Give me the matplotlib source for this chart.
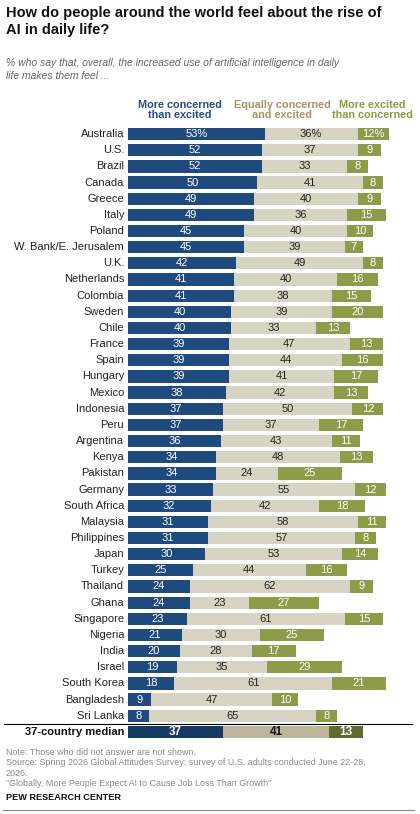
import numpy as np
import matplotlib.pyplot as plt

countries = ['Australia', 'U.S.', 'Brazil', 'Canada', 'Greece', 'Italy', 'Poland',
             'W. Bank/E. Jerusalem', 'U.K.', 'Netherlands', 'Colombia', 'Sweden', 'Chile',
             'France', 'Spain', 'Hungary', 'Mexico', 'Indonesia', 'Peru', 'Argentina',
             'Kenya', 'Pakistan', 'Germany', 'South Africa', 'Malaysia', 'Philippines',
             'Japan', 'Turkey', 'Thailand', 'Ghana', 'Singapore', 'Nigeria', 'India',
             'Israel', 'South Korea', 'Bangladesh', 'Sri Lanka']
concerned = [53, 52, 52, 50, 49, 49, 45, 45, 42, 41, 41, 40, 40, 39, 39, 39, 38, 37, 37,
             36, 34, 34, 33, 32, 31, 31, 30, 25, 24, 24, 23, 21, 20, 19, 18, 9, 8]
equal = [36, 37, 33, 41, 40, 36, 40, 39, 49, 40, 38, 39, 33, 47, 44, 41, 42, 50, 37,
         43, 48, 24, 55, 42, 58, 57, 53, 44, 62, 23, 61, 30, 28, 35, 61, 47, 65]
excited = [12, 9, 8, 8, 9, 15, 10, 7, 8, 16, 15, 20, 13, 13, 16, 17, 13, 12, 17,
           11, 13, 25, 12, 18, 11, 8, 14, 16, 9, 27, 15, 25, 17, 29, 21, 10, 8]
median_label = '37-country median'
median = [37, 41, 13]

W, H = 420, 814
fig = plt.figure(figsize=(W / 100, H / 100), dpi=100)
plt.rcParams['font.family'] = ['Liberation Sans', 'DejaVu Sans']

c_blue, c_beige, c_green = '#1f4a7e', '#d8d4c4', '#8d9c48'
m_blue, m_beige, m_green = '#173a63', '#bdb59c', '#5f6b2e'

# axes: x 0..110 units maps to px 128..128+2.58*110; rows -0.5..37.5 maps to px 126..740
ppu = 2.58
left, right = 128, 128 + ppu * 110
top, bot = 126, 740
ax = fig.add_axes([left / W, 1 - bot / H, (right - left) / W, (bot - top) / H])
ax.set_xlim(0, 110)
ax.set_ylim(37.5, -0.5)
ax.axis('off')

y = np.arange(len(countries))
h = 0.76
c = np.array(concerned)
e = np.array(equal)
x = np.array(excited)
ax.barh(y, c, height=h, color=c_blue)
ax.barh(y, e, left=c, height=h, color=c_beige)
ax.barh(y, x, left=c + e, height=h, color=c_green)
for i in range(len(countries)):
    suf = '%' if i == 0 else ''
    ax.text(c[i] / 2, i, f'{c[i]}{suf}', ha='center', va='center', color='white', fontsize=8)
    ax.text(c[i] + e[i] / 2, i, f'{e[i]}{suf}', ha='center', va='center', color='#222222', fontsize=8)
    ax.text(c[i] + e[i] + x[i] / 2, i, f'{x[i]}{suf}', ha='center', va='center', color='white', fontsize=8)
    ax.text(-1.5, i, countries[i], ha='right', va='center', color='#222222', fontsize=8)

# median row
my = len(countries)
ax.barh(my, median[0], height=h, color=m_blue)
ax.barh(my, median[1], left=median[0], height=h, color=m_beige)
ax.barh(my, median[2], left=median[0] + median[1], height=h, color=m_green)
ax.text(median[0] / 2, my, str(median[0]), ha='center', va='center', color='white', fontsize=8.5, weight='bold')
ax.text(median[0] + median[1] / 2, my, str(median[1]), ha='center', va='center', color='#111111', fontsize=8.5, weight='bold')
ax.text(median[0] + median[1] + median[2] / 2, my, str(median[2]), ha='center', va='center', color='white', fontsize=8.5, weight='bold')
ax.text(-1.5, my, median_label, ha='right', va='center', color='#111111', fontsize=8, weight='bold')
ax.plot([-48, 110], [my - 0.5, my - 0.5], color='black', lw=0.8, clip_on=False)

def fx(px):
    return px / W

def fy(py):
    return 1 - py / H

fig.text(fx(6), fy(6), 'How do people around the world feel about the rise of\nAI in daily life?',
         ha='left', va='top', fontsize=10.5, weight='bold', color='#111111', linespacing=1.25)
fig.text(fx(6), fy(58), '% who say that, overall, the increased use of artificial intelligence in daily\nlife makes them feel ...',
         ha='left', va='top', fontsize=7.5, style='italic', color='#666666', linespacing=1.35)
fig.text(fx(180), fy(110), 'More concerned\nthan excited', ha='center', va='center', fontsize=7.8,
         weight='bold', color='#2a4e80', linespacing=1.1)
fig.text(fx(282), fy(110), 'Equally concerned\nand excited', ha='center', va='center', fontsize=7.8,
         weight='bold', color='#a8946a', linespacing=1.1)
fig.text(fx(372), fy(110), 'More excited\nthan concerned', ha='center', va='center', fontsize=7.8,
         weight='bold', color='#8d9c3d', linespacing=1.1)

fig.text(fx(6), fy(748), 'Note: Those who did not answer are not shown.\n'
         'Source: Spring 2026 Global Attitudes Survey; survey of U.S. adults conducted June 22-28,\n2026.\n'
         '\u201cGlobally, More People Expect AI to Cause Job Loss Than Growth\u201d',
         ha='left', va='top', fontsize=6.4, color='#8a8a8a', linespacing=1.2)
fig.text(fx(6), fy(793), 'PEW RESEARCH CENTER', ha='left', va='top', fontsize=6.6, weight='bold', color='#111111')
fig.add_artist(plt.Line2D([fx(3), fx(414)], [fy(810), fy(810)], color='#888888', lw=0.8))

fig.savefig('out.png', dpi=100)
